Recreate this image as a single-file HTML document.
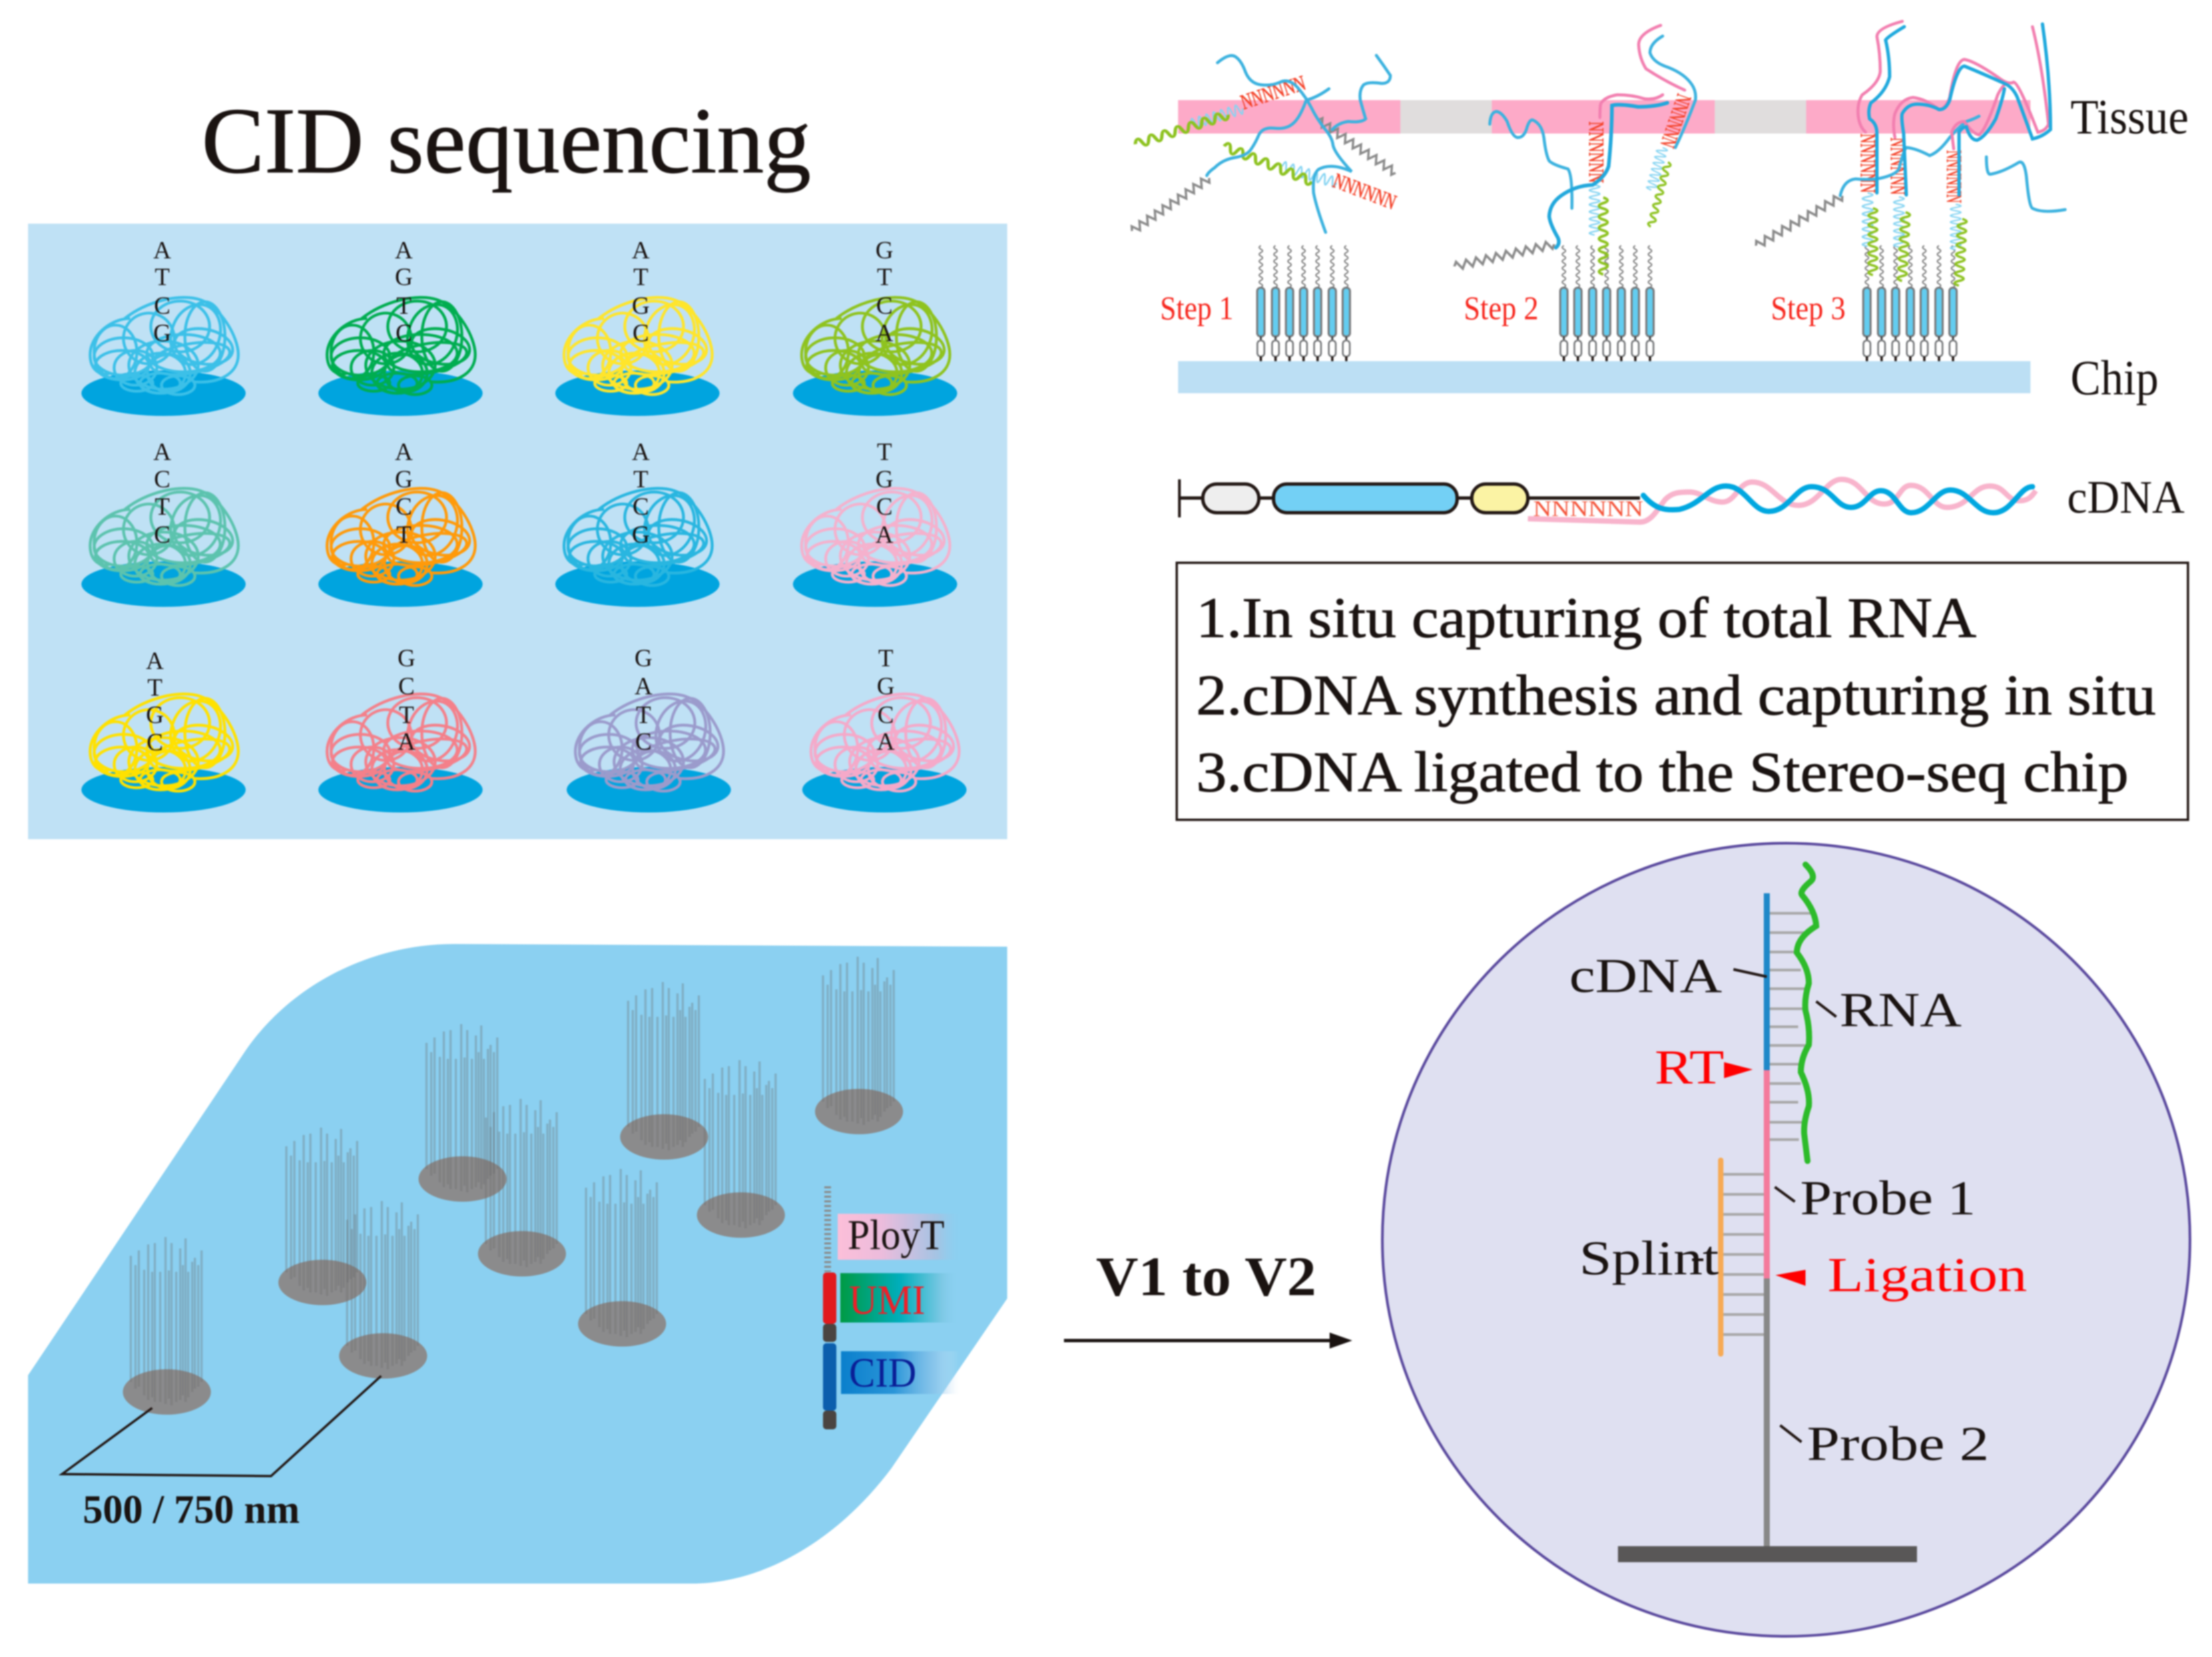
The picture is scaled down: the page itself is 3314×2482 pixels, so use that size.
<!DOCTYPE html>
<html><head><meta charset="utf-8"><style>
html,body{margin:0;padding:0;background:#fff;width:3314px;height:2482px;overflow:hidden}
svg{display:block;filter:blur(1px)}
text{font-family:"Liberation Serif",serif;fill:#1a1311}
.l{font-size:37px;text-anchor:middle}
.r{fill:#f7271e}
.n{font-size:32px;fill:#f4432a;stroke:#f4432a;stroke-width:.7}
.big{font-size:73px}
.h{stroke:#1a1311;stroke-width:.9}
</style></head><body>
<svg xmlns="http://www.w3.org/2000/svg" width="3314" height="2482" viewBox="0 0 3314 2482">
<defs>
<g id="b" fill="none" stroke-width="4.3">
<path d="M-58,-112C-25,-138 25,-150 55,-140C85,-130 112,-85 112,-58C112,-30 85,-14 45,-17"/>
<path d="M-50,-112C-80,-112 -110,-85 -110,-58C-110,-35 -95,-25 -80,-30"/>
<ellipse cx="-72" cy="-62" rx="32" ry="40"/><ellipse cx="-60" cy="-55" rx="44" ry="28"/>
<ellipse cx="-22" cy="-82" rx="38" ry="38" transform="rotate(-20 -22 -82)"/>
<ellipse cx="25" cy="-100" rx="44" ry="38"/>
<ellipse cx="48" cy="-88" rx="36" ry="46" transform="rotate(20 48 -88)"/>
<ellipse cx="62" cy="-85" rx="30" ry="52"/>
<ellipse cx="60" cy="-70" rx="44" ry="26" transform="rotate(10 60 -70)"/>
<ellipse cx="30" cy="-60" rx="55" ry="28"/><ellipse cx="0" cy="-42" rx="52" ry="36"/>
<ellipse cx="-5" cy="-30" rx="38" ry="30"/><ellipse cx="-42" cy="-38" rx="32" ry="26"/>
<ellipse cx="8" cy="-30" rx="32" ry="28"/><ellipse cx="-40" cy="-15" rx="24" ry="12"/>
<ellipse cx="22" cy="-12" rx="25" ry="14"/><ellipse cx="-62" cy="-42" rx="40" ry="22"/>
<ellipse cx="-5" cy="-15" rx="30" ry="15"/>
<ellipse cx="40" cy="-52" rx="60" ry="22" transform="rotate(-10 40 -52)"/>
</g>
<path id="zz" fill="none" d="M0,0l2.5,-6l5,12l5,-12l5,12l5,-12l5,12l5,-12l5,12l5,-12l5,12l5,-12l5,12l5,-12l5,12l5,-12l5,12l5,-12l5,12l5,-12l5,12l2.5,-6"/>
<path id="wv" fill="none" d="M0,0q3.57,-15 7.14,0t7.14,0t7.14,0t7.14,0t7.14,0t7.14,0t7.14,0t7.14,0t7.14,0t7.14,0t7.14,0t7.14,0t7.14,0t7.14,0"/>
<g id="p">
<path d="M0,368q-5,2.6 0,5.2t0,5.2t0,5.2t0,5.2t0,5.2t0,5.2t0,5.2t0,5.2t0,5.2t0,5.2t0,5.2t0,5.2" fill="none" stroke="#808080" stroke-width="2"/>
<rect x="-5.5" y="431" width="11" height="73" rx="5" fill="#63cdf0" stroke="#77797b" stroke-width="3"/>
<path d="M0,504V511" stroke="#444" stroke-width="3"/>
<rect x="-5.2" y="510" width="10.4" height="24" rx="5" fill="#fff" stroke="#77797b" stroke-width="2.6"/>
<path d="M0,534V541" stroke="#231815" stroke-width="3.5"/>
</g>
<g id="br" stroke="#666" stroke-opacity=".33" stroke-width="3.2">
<path d="M-54,-204V-15M-47,-190V-5M-42,-212V-8M-34,-183V5M-28,-221V12M-22,-180V8M-18,-223V15M-10,-180V15M-2,-232V18M3,-182V10M7,-223V20M14,-180V15M20,-215V12M24,-190V5M28,-230V15M32,-180V8M38,-195V0M42,-201V-5M47,-190V-8M52,-212V-15"/>
</g>
<g id="d"><ellipse rx="66" ry="34" fill="#8b8b8c"/><use href="#br"/></g>
<linearGradient id="g1"><stop offset="0" stop-color="#fcbfd9"/><stop offset=".35" stop-color="#ecbcdc"/><stop offset=".8" stop-color="#a3c4e4"/><stop offset="1" stop-color="#8bd0f1" stop-opacity="0"/></linearGradient>
<linearGradient id="g2"><stop offset="0" stop-color="#009a44"/><stop offset=".5" stop-color="#00aebb"/><stop offset=".85" stop-color="#7cc8e4"/><stop offset="1" stop-color="#8bd0f1" stop-opacity="0"/></linearGradient>
<linearGradient id="g3"><stop offset="0" stop-color="#0a7fcc"/><stop offset=".45" stop-color="#2a95d8"/><stop offset=".8" stop-color="#8bc4ea" stop-opacity=".75"/><stop offset="1" stop-color="#d8e8f8" stop-opacity="0"/></linearGradient>
</defs>

<text class="h" x="302" y="258" font-size="141" textLength="913" lengthAdjust="spacingAndGlyphs">CID sequencing</text>

<rect x="42" y="335" width="1467" height="922" fill="#bfe1f5"/>

<g fill="#00a4df">
<ellipse cx="245" cy="589" rx="123" ry="34"/><ellipse cx="600" cy="589" rx="123" ry="34"/><ellipse cx="955" cy="589" rx="123" ry="34"/><ellipse cx="1311" cy="589" rx="123" ry="34"/>
<ellipse cx="245" cy="875" rx="123" ry="34"/><ellipse cx="600" cy="875" rx="123" ry="34"/><ellipse cx="955" cy="875" rx="123" ry="34"/><ellipse cx="1311" cy="875" rx="123" ry="34"/>
<ellipse cx="245" cy="1183" rx="123" ry="34"/><ellipse cx="600" cy="1183" rx="123" ry="34"/><ellipse cx="972" cy="1183" rx="123" ry="34"/><ellipse cx="1325" cy="1183" rx="123" ry="34"/>
</g>
<use href="#b" transform="translate(245,589)" stroke="#3cc0e8"/>
<use href="#b" transform="translate(600,589)" stroke="#00ad50"/>
<use href="#b" transform="translate(955,589)" stroke="#ffe52b"/>
<use href="#b" transform="translate(1311,589)" stroke="#8fc31f"/>
<use href="#b" transform="translate(245,875)" stroke="#5cc3ae"/>
<use href="#b" transform="translate(600,875)" stroke="#ff9a0a"/>
<use href="#b" transform="translate(955,875)" stroke="#29b6e0"/>
<use href="#b" transform="translate(1311,875)" stroke="#f5b1cd"/>
<use href="#b" transform="translate(245,1183)" stroke="#ffe100"/>
<use href="#b" transform="translate(600,1183)" stroke="#f4808a"/>
<use href="#b" transform="translate(972,1183)" stroke="#9b9bcc"/>
<use href="#b" transform="translate(1325,1183)" stroke="#f5a9c9"/>

<text class="l" x="243" y="387">A</text><text class="l" x="243" y="427">T</text><text class="l" x="243" y="470">C</text><text class="l" x="243" y="511">G</text>
<text class="l" x="605" y="387">A</text><text class="l" x="605" y="427">G</text><text class="l" x="605" y="470">T</text><text class="l" x="605" y="511">C</text>
<text class="l" x="960" y="387">A</text><text class="l" x="960" y="427">T</text><text class="l" x="960" y="470">G</text><text class="l" x="960" y="511">C</text>
<text class="l" x="1325" y="387">G</text><text class="l" x="1325" y="427">T</text><text class="l" x="1325" y="470">C</text><text class="l" x="1325" y="511">A</text>
<text class="l" x="243" y="689">A</text><text class="l" x="243" y="730">C</text><text class="l" x="243" y="771">T</text><text class="l" x="243" y="813">C</text>
<text class="l" x="605" y="689">A</text><text class="l" x="605" y="730">G</text><text class="l" x="605" y="771">C</text><text class="l" x="605" y="813">T</text>
<text class="l" x="960" y="689">A</text><text class="l" x="960" y="730">T</text><text class="l" x="960" y="771">C</text><text class="l" x="960" y="813">G</text>
<text class="l" x="1325" y="689">T</text><text class="l" x="1325" y="730">G</text><text class="l" x="1325" y="771">C</text><text class="l" x="1325" y="813">A</text>
<text class="l" x="232" y="1002">A</text><text class="l" x="232" y="1042">T</text><text class="l" x="232" y="1083">G</text><text class="l" x="232" y="1124">C</text>
<text class="l" x="609" y="998">G</text><text class="l" x="609" y="1040">C</text><text class="l" x="609" y="1083">T</text><text class="l" x="609" y="1123">A</text>
<text class="l" x="964" y="998">G</text><text class="l" x="964" y="1040">A</text><text class="l" x="964" y="1083">T</text><text class="l" x="964" y="1123">C</text>
<text class="l" x="1327" y="998">T</text><text class="l" x="1327" y="1040">G</text><text class="l" x="1327" y="1083">C</text><text class="l" x="1327" y="1123">A</text>

<!-- top right -->
<rect x="1765" y="150" width="333" height="50" fill="#fdaac8"/><rect x="2098" y="150" width="137" height="50" fill="#e0dddd"/>
<rect x="2235" y="150" width="334" height="50" fill="#fdaac8"/><rect x="2569" y="150" width="137" height="50" fill="#e0dddd"/>
<rect x="2706" y="150" width="336" height="50" fill="#fdaac8"/>
<rect x="1765" y="541" width="1277" height="48" fill="#bcdff4"/>

<use href="#p" x="1889"/><use href="#p" x="1911"/><use href="#p" x="1932"/><use href="#p" x="1953"/><use href="#p" x="1974"/><use href="#p" x="1996"/><use href="#p" x="2017"/>
<use href="#p" x="2343"/><use href="#p" x="2364"/><use href="#p" x="2386"/><use href="#p" x="2407"/><use href="#p" x="2429"/><use href="#p" x="2450"/><use href="#p" x="2472"/>
<use href="#p" x="2797"/><use href="#p" x="2819"/><use href="#p" x="2840"/><use href="#p" x="2862"/><use href="#p" x="2883"/><use href="#p" x="2905"/><use href="#p" x="2926"/>

<text class="r" x="1738" y="478" font-size="50" textLength="110" lengthAdjust="spacingAndGlyphs">Step 1</text>
<text class="r" x="2193" y="478" font-size="50" textLength="112" lengthAdjust="spacingAndGlyphs">Step 2</text>
<text class="r" x="2653" y="478" font-size="50" textLength="112" lengthAdjust="spacingAndGlyphs">Step 3</text>
<text x="3102" y="200" font-size="74" textLength="177" lengthAdjust="spacingAndGlyphs">Tissue</text>
<text x="3102" y="591" font-size="74" textLength="132" lengthAdjust="spacingAndGlyphs">Chip</text>

<!-- gray poly-A -->
<g stroke="#8a8a8a" stroke-width="2.6">
<use href="#zz" transform="translate(1696,346) rotate(-34.5) scale(1.4,1)"/>
<use href="#zz" transform="translate(1975,180) rotate(34.3) scale(1.4,1)"/>
<use href="#zz" transform="translate(2179,399) rotate(-12.5) scale(1.53,1)"/>
<use href="#zz" transform="translate(2631,368) rotate(-30) scale(1.49,1)"/>
</g>
<!-- light blue waves -->
<g stroke="#86d4f2" stroke-width="3">
<use href="#wv" transform="translate(1785,186) rotate(-17) scale(.8,1)"/>
<use href="#wv" transform="translate(1921,249) rotate(17) scale(.85,1)"/>
<use href="#wv" transform="translate(2389,277) rotate(90) scale(.75,1)"/>
<use href="#wv" transform="translate(2491,221) rotate(105) scale(.66,1)"/>
<use href="#wv" transform="translate(2798,289) rotate(90) scale(.8,1)"/>
<use href="#wv" transform="translate(2845,295) rotate(90) scale(.75,1)"/>
<use href="#wv" transform="translate(2930,306) rotate(90) scale(.68,1)"/>
</g>
<!-- green waves -->
<g stroke="#8dc21f" stroke-width="3.6">
<use href="#wv" transform="translate(1701,216) rotate(-17.6) scale(1.46,.9)"/>
<use href="#wv" transform="translate(1834,219) rotate(22) scale(1.42,.9)"/>
<use href="#wv" transform="translate(2402,296) rotate(90) scale(1.15,.9)"/>
<use href="#wv" transform="translate(2499,243) rotate(105) scale(1,.7)"/>
<use href="#wv" transform="translate(2806,312) rotate(90) scale(1,.9)"/>
<use href="#wv" transform="translate(2855,318) rotate(93) scale(1.03,.9)"/>
<use href="#wv" transform="translate(2940,328) rotate(93) scale(1,.9)"/>
</g>
<!-- NNNN labels -->
<text class="n" transform="translate(1863,164) rotate(-18)" textLength="100" lengthAdjust="spacingAndGlyphs">NNNNNN</text>
<text class="n" transform="translate(1995,279) rotate(21)" textLength="98" lengthAdjust="spacingAndGlyphs">NNNNNN</text>
<text class="n" transform="translate(2381,182) rotate(90)" textLength="92" lengthAdjust="spacingAndGlyphs">NNNNNN</text>
<text class="n" transform="translate(2514,139) rotate(109)" textLength="82" lengthAdjust="spacingAndGlyphs">NNNNNN</text>
<text class="n" transform="translate(2788,200) rotate(90)" textLength="89" lengthAdjust="spacingAndGlyphs">NNNNNN</text>
<text class="n" transform="translate(2833,206) rotate(90)" textLength="86" lengthAdjust="spacingAndGlyphs">NNNNNN</text>
<text class="n" transform="translate(2917,225) rotate(90)" textLength="79" lengthAdjust="spacingAndGlyphs">NNNNNN</text>

<!-- strands -->
<g fill="none" stroke-linecap="round">
<g stroke="#3cb2df" stroke-width="4.5">
<path d="M1824,94Q1842,79 1851,85Q1860,91 1866,108Q1873,125 1889,127Q1905,129 1918,123Q1931,117 1944,131Q1957,146 1965,162Q1973,178 1984,192Q1996,206 1997,217Q1999,229 2025,257Q1994,243 1975,254Q1966,262 1968,289Q1972,310 1986,348"/>
<path d="M1991,133Q1973,146 1957,150Q1947,178 1936,186Q1926,194 1909,192Q1892,190 1886,202Q1881,214 1874,224Q1868,233 1850,236Q1832,239 1820,251Q1810,258 1808,263"/>
<path d="M2062,83Q2073,98 2083,113Q2083,125 2070,125Q2050,122 2043,127Q2036,135 2038,150Q2042,165 2046,178Q2040,184 2020,182Q2005,184 1996,194"/>
<path d="M2232,186Q2233,168 2242,167Q2250,168 2258,182Q2266,206 2274,206Q2284,206 2288,190Q2292,178 2297,180Q2310,186 2313,206Q2316,232 2321,241Q2327,247 2349,253Q2356,262 2355,312"/>
<path d="M2491,54Q2472,65 2472,79Q2476,92 2494,99Q2520,108 2532,123Q2542,135 2540,150Q2525,190 2510,221"/>
<path d="M2757,293Q2762,270 2780,268Q2800,270 2817,267Q2840,262 2845,253Q2852,225 2856,221Q2870,222 2891,233Q2905,228 2921,206Q2935,190 2946,182Q2958,178 2965,174"/>
<path d="M2976,235Q2976,262 2982,261Q3000,258 3025,243Q3033,240 3036,265Q3040,310 3045,312Q3060,320 3094,314"/>
</g>
<path d="M2331,371Q2338,365 2334,356Q2322,335 2321,324Q2322,305 2339,293Q2360,278 2386,277Q2405,265 2410,249Q2415,200 2415,158Q2425,155 2454,160Q2480,160 2498,154" stroke="#22a8dc" stroke-width="5.5"/>
<g stroke="#f27fb0" stroke-width="4.5">
<path d="M2397,176Q2397,155 2399,154Q2405,145 2423,142Q2445,142 2464,148Q2480,150 2491,142"/>
<path d="M2488,38Q2455,50 2455,67Q2456,87 2466,103Q2495,122 2524,135"/>
<path d="M2850,32Q2812,42 2812,55Q2817,80 2817,107Q2815,125 2790,142Q2782,155 2784,174Q2786,190 2795,198"/>
<path d="M2839,206Q2835,185 2839,170Q2848,148 2866,146Q2885,148 2905,164Q2915,163 2921,146Q2930,90 2943,89Q2960,92 2998,119Q3010,127 3017,123Q3025,125 3053,198Q3065,196 3069,186Q3060,100 3045,40"/>
<path d="M2927,223L2924,198Q2930,182 2943,182Q2955,200 2965,202Q2975,195 2993,142Q3000,128 3006,125"/>
</g>
<g stroke="#1fa9dd" stroke-width="5">
<path d="M2853,40Q2828,55 2825,60Q2831,85 2831,115Q2825,138 2803,154Q2798,165 2801,178Q2812,185 2812,200L2812,289"/>
<path d="M2856,292L2852,200Q2848,175 2850,170Q2858,156 2872,156Q2890,156 2905,164Q2915,165 2921,150Q2932,100 2943,99Q2970,110 3003,125Q3015,130 3022,145Q3035,180 3045,208Q3060,205 3072,194Q3072,120 3060,36"/>
<path d="M2935,292L2935,198Q2940,190 2946,190Q2952,210 2962,210Q2975,205 2990,178Q3000,150 3003,133"/>
</g>
</g>

<!-- cDNA construct -->
<path d="M1767,718V775" stroke="#231815" stroke-width="4"/>
<path d="M1767,746H2457" stroke="#231815" stroke-width="5"/>
<rect x="1802" y="725" width="84" height="43" rx="21" fill="#eeeeee" stroke="#231815" stroke-width="5"/>
<rect x="1908" y="725" width="275" height="43" rx="20" fill="#73d0f5" stroke="#231815" stroke-width="5"/>
<rect x="2205" y="725" width="84" height="43" rx="21" fill="#fbf3a4" stroke="#231815" stroke-width="5"/>
<text x="2297" y="773" font-size="34" textLength="165" lengthAdjust="spacingAndGlyphs" style="fill:#f4543a">NNNNNN</text>
<path d="M2289,777L2457,782C2475,782 2485,760 2495,748C2505,738 2515,737 2531,737C2550,737 2560,752 2581,752C2600,752 2605,722 2625,722C2655,722 2665,757 2694,757C2725,757 2735,718 2759,718C2790,718 2795,755 2823,755C2845,755 2845,727 2863,727C2890,727 2895,760 2917,760C2950,760 2955,728 2981,728C3005,728 3005,750 3026,750C3040,750 3045,742 3050,735" fill="none" stroke="#f8b4cc" stroke-width="8"/>
<path d="M2462,742C2480,763 2495,765 2516,763C2550,755 2560,728 2586,728C2615,728 2625,766 2650,766C2680,766 2690,729 2714,729C2745,729 2750,760 2773,760C2795,760 2800,735 2818,735C2840,735 2845,768 2863,768C2890,768 2900,734 2922,734C2950,734 2960,768 2986,768C3015,768 3025,729 3045,729" fill="none" stroke="#00a7e0" stroke-width="8" stroke-linecap="round"/>
<text x="3097" y="768" font-size="70" textLength="176" lengthAdjust="spacingAndGlyphs">cDNA</text>

<!-- text box -->
<rect x="1763" y="843" width="1515" height="385" fill="#fff" stroke="#231815" stroke-width="3.5"/>
<text class="h" x="1792" y="954" font-size="86" textLength="1169" lengthAdjust="spacingAndGlyphs">1.In situ capturing of total RNA</text>
<text class="h" x="1792" y="1070" font-size="86" textLength="1438" lengthAdjust="spacingAndGlyphs">2.cDNA synthesis and capturing in situ</text>
<text class="h" x="1792" y="1185" font-size="86" textLength="1397" lengthAdjust="spacingAndGlyphs">3.cDNA ligated to the Stereo-seq chip</text>

<!-- bottom-left plate -->
<path d="M42,2060L365,1578C430,1480 550,1414 680,1414L1509,1418V1945L1335,2200C1260,2300 1150,2372 1036,2372H42Z" fill="#8bd0f1"/>
<use href="#d" x="1287" y="1665"/>
<use href="#d" x="693" y="1766"/>
<use href="#d" x="995" y="1703"/>
<use href="#d" x="782" y="1878"/>
<use href="#d" x="1110" y="1820"/>
<use href="#d" x="483" y="1921"/>
<use href="#d" x="932" y="1983"/>
<use href="#d" x="574" y="2031"/>
<use href="#d" x="250" y="2085"/>
<path d="M228,2109L93,2208L406,2211L571,2061" fill="none" stroke="#231815" stroke-width="3.5"/>
<text x="124" y="2281" font-size="60" font-weight="bold" textLength="325" lengthAdjust="spacingAndGlyphs">500 / 750 nm</text>

<!-- legend -->
<path d="M1240,1777V1905" stroke="#8a8a8a" stroke-width="10" stroke-dasharray="3 4"/>
<rect x="1233" y="1906" width="20" height="77" rx="5" fill="#e1191e"/>
<rect x="1233" y="1983" width="20" height="27" rx="5" fill="#4a4441"/>
<rect x="1233" y="2012" width="20" height="101" rx="5" fill="#0b5ead"/>
<rect x="1233" y="2113" width="20" height="28" rx="5" fill="#4a4441"/>
<rect x="1255" y="1818" width="188" height="69" fill="url(#g1)"/>
<rect x="1259" y="1907" width="178" height="74" fill="url(#g2)"/>
<rect x="1260" y="2024" width="177" height="64" fill="url(#g3)"/>
<text x="1270" y="1871" font-size="64" textLength="145" lengthAdjust="spacingAndGlyphs">PloyT</text>
<text x="1272" y="1968" font-size="62" textLength="114" lengthAdjust="spacingAndGlyphs" style="fill:#f01e28">UMI</text>
<text x="1272" y="2077" font-size="62" textLength="101" lengthAdjust="spacingAndGlyphs" style="fill:#0a1e96">CID</text>

<!-- arrow -->
<text x="1642" y="1940" font-size="84" font-weight="bold" textLength="330" lengthAdjust="spacingAndGlyphs">V1 to V2</text>
<path d="M1594,2008H2000" stroke="#1a1311" stroke-width="5"/>
<path d="M1992,1996L2026,2008L1992,2020Z" fill="#1a1311"/>

<!-- circle -->
<ellipse cx="2676" cy="1857" rx="605" ry="594" fill="#dfe0f1" stroke="#5b4a9e" stroke-width="4"/>
<g stroke="#a8a8a8" stroke-width="4">
<path d="M2651,1368H2716M2651,1397H2712M2651,1426H2695M2651,1453H2698M2651,1481H2712M2651,1511H2704M2651,1538H2694M2651,1566H2712M2651,1594H2698M2651,1623H2698M2651,1651H2694M2651,1681H2708M2651,1707H2695"/>
<path d="M2582,1759H2643M2582,1789H2643M2582,1819H2643M2582,1849H2643M2582,1879H2643M2582,1909H2643M2582,1939H2643M2582,1969H2643M2582,1999H2643"/>
</g>
<path d="M2647,1338V1603" stroke="#1e88c8" stroke-width="9"/>
<path d="M2647,1603V1915" stroke="#f47a9c" stroke-width="9"/>
<path d="M2647,1915V2325" stroke="#888" stroke-width="9"/>
<rect x="2424" y="2316" width="448" height="24" fill="#595757"/>
<path d="M2705,1295Q2722,1312 2713,1320Q2695,1335 2700,1341Q2720,1365 2721,1387Q2692,1405 2692,1427Q2710,1450 2710,1473Q2703,1495 2705,1514Q2712,1540 2710,1565Q2698,1585 2698,1606Q2712,1635 2710,1657Q2702,1680 2703,1698L2708,1739" fill="none" stroke="#2dbb2a" stroke-width="9" stroke-linecap="round"/>
<path d="M2578,1738V2028" stroke="#f7aa55" stroke-width="8" stroke-linecap="round"/>
<g stroke="#231815" stroke-width="4" fill="none">
<path d="M2597,1452L2647,1463M2721,1500L2751,1523M2659,1778L2689,1800M2667,2135L2699,2160M2535,1887H2552"/>
</g>
<path d="M2583,1591L2626,1602L2583,1615Z" fill="#f00"/>
<path d="M2660,1910L2705,1902V1926Z" fill="#f00"/>
<text class="big" x="2351" y="1486" textLength="229" lengthAdjust="spacingAndGlyphs">cDNA</text>
<text class="big" x="2756" y="1537" textLength="183" lengthAdjust="spacingAndGlyphs">RNA</text>
<text class="big" x="2479" y="1623" textLength="104" lengthAdjust="spacingAndGlyphs" style="fill:#f00">RT</text>
<text class="big" x="2697" y="1819" textLength="263" lengthAdjust="spacingAndGlyphs">Probe 1</text>
<text class="big" x="2366" y="1909" textLength="209" lengthAdjust="spacingAndGlyphs">Splint</text>
<text class="big" x="2738" y="1934" textLength="299" lengthAdjust="spacingAndGlyphs" style="fill:#f00">Ligation</text>
<text class="big" x="2707" y="2187" textLength="273" lengthAdjust="spacingAndGlyphs">Probe 2</text>
</svg>
</body></html>
